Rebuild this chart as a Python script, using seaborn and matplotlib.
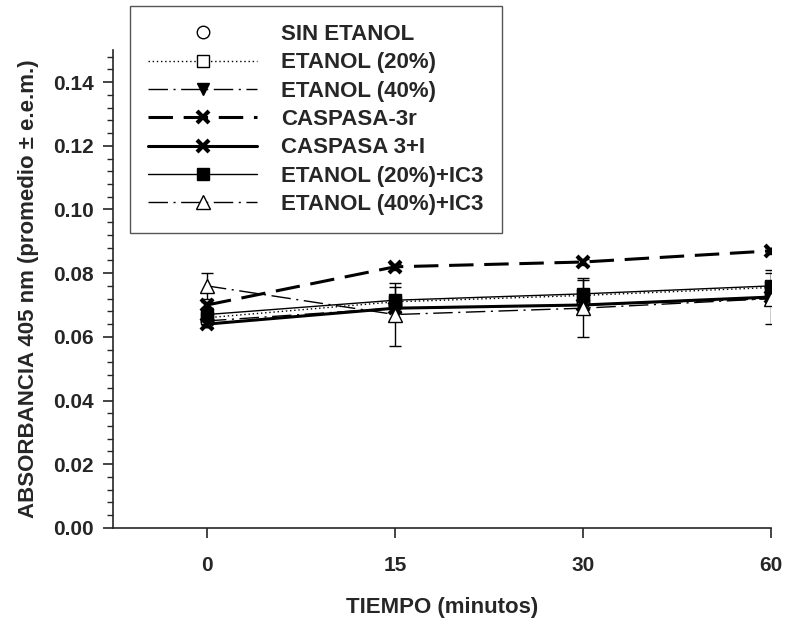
import numpy as np
import pandas as pd
import matplotlib
matplotlib.use("Agg")
import matplotlib.pyplot as plt
import seaborn as sns
from matplotlib.ticker import MultipleLocator, FormatStrFormatter

sns.set_style("ticks")
plt.rcParams["font.family"] = ["Liberation Sans", "DejaVu Sans"]
plt.rcParams["font.weight"] = "bold"

# Data
tiempos = ["0", "15", "30", "60"]
series = ["SIN ETANOL", "ETANOL (20%)", "ETANOL (40%)", "CASPASA-3r",
          "CASPASA 3+I", "ETANOL (20%)+IC3", "ETANOL (40%)+IC3"]
sin_etanol = [0.065, 0.070, 0.071, 0.073]
sin_etanol_err = [0.001, 0.001, 0.001, 0.001]
etanol20 = [0.066, 0.071, 0.073, 0.0755]
etanol20_err = [0.002, 0.002, 0.002, 0.002]
etanol40 = [0.065, 0.069, 0.070, 0.072]
etanol40_err = [0.001, 0.001, 0.001, 0.002]
caspasa3r = [0.070, 0.082, 0.0835, 0.087]
caspasa3r_err = [0.001, 0.001, 0.001, 0.001]
caspasa3i = [0.064, 0.069, 0.070, 0.0725]
caspasa3i_err = [0.001, 0.001, 0.001, 0.001]
etanol20_ic3 = [0.067, 0.0715, 0.0735, 0.076]
etanol20_ic3_err = [0.002, 0.004, 0.005, 0.005]
etanol40_ic3 = [0.076, 0.067, 0.069, 0.072]
etanol40_ic3_err = [0.004, 0.010, 0.009, 0.008]

valores = [sin_etanol, etanol20, etanol40, caspasa3r, caspasa3i, etanol20_ic3, etanol40_ic3]
errores = [sin_etanol_err, etanol20_err, etanol40_err, caspasa3r_err,
           caspasa3i_err, etanol20_ic3_err, etanol40_ic3_err]

rows = []
for s, v, e in zip(series, valores, errores):
    for i, t in enumerate(tiempos):
        rows.append({"serie": s, "pos": i, "tiempo": t, "abs": v[i], "err": e[i]})
df = pd.DataFrame(rows)

# line / marker style per series
estilos = {
    "SIN ETANOL": dict(ls="none", lw=1.0, m="o", fc="white", ms=9, mew=1.0),
    "ETANOL (20%)": dict(ls=(0, (1, 2)), lw=1.0, m="s", fc="white", ms=8.5, mew=1.0),
    "ETANOL (40%)": dict(ls=(0, (14, 4, 1.5, 4)), lw=1.0, m="v", fc="black", ms=9, mew=1.0),
    "CASPASA-3r": dict(ls=(0, (8, 3.5)), lw=2.2, m="x", fc="black", ms=8, mew=3.0),
    "CASPASA 3+I": dict(ls="-", lw=2.2, m="x", fc="black", ms=8, mew=3.0),
    "ETANOL (20%)+IC3": dict(ls="-", lw=1.0, m="s", fc="black", ms=8.5, mew=1.0),
    "ETANOL (40%)+IC3": dict(ls=(0, (14, 4, 1.5, 4)), lw=1.0, m="^", fc="white", ms=10, mew=1.0),
}

fig = plt.figure(figsize=(7.9, 6.21), dpi=100)
ax = fig.add_axes([0.143, 0.150, 0.833, 0.769])

for s in series:
    sub = df[df["serie"] == s]
    st = estilos[s]
    ax.errorbar(sub["pos"], sub["abs"], yerr=sub["err"], fmt="none",
                ecolor="black", elinewidth=1.0, capsize=4.5, capthick=1.0, zorder=2)
    sns.lineplot(data=sub, x="pos", y="abs", ax=ax, color="black",
                 linestyle=st["ls"], linewidth=st["lw"],
                 marker=st["m"], markersize=st["ms"], markerfacecolor=st["fc"],
                 markeredgecolor="black", markeredgewidth=st["mew"], label=s, zorder=3)

ax.set_xlim(-0.5, 3.0)
ax.set_ylim(0, 0.15)
ax.set_xticks(range(len(tiempos)))
ax.set_xticklabels(tiempos)
ax.set_yticks(np.arange(0, 0.141, 0.02))
ax.yaxis.set_minor_locator(MultipleLocator(0.004))
ax.yaxis.set_major_formatter(FormatStrFormatter("%.2f"))
ax.tick_params(axis="both", which="major", direction="out", length=7, width=1.2,
               labelsize=15, pad=7)
ax.tick_params(axis="y", which="minor", direction="out", length=4, width=1.0)
ax.tick_params(axis="x", pad=13)
for lab in ax.get_xticklabels() + ax.get_yticklabels():
    lab.set_fontweight("bold")
sns.despine(ax=ax)
for sp in ["left", "bottom"]:
    ax.spines[sp].set_linewidth(1.2)

ax.set_xlabel("TIEMPO (minutos)", fontsize=16, fontweight="bold", labelpad=16)
ax.set_ylabel("ABSORBANCIA 405 nm (promedio ± e.e.m.)", fontsize=16,
              fontweight="bold", labelpad=10)

leg = ax.legend(loc="upper left", bbox_to_anchor=(0.165, 0.99),
                bbox_transform=fig.transFigure, frameon=True, fancybox=False,
                handlelength=4.9, handletextpad=1.1, labelspacing=0.33,
                borderpad=0.8, borderaxespad=0,
                prop={"weight": "bold", "size": 16})
leg.get_frame().set_edgecolor("#555555")
leg.get_frame().set_linewidth(1.0)
leg.get_frame().set_alpha(1.0)

fig.savefig("out.png", dpi=100)
